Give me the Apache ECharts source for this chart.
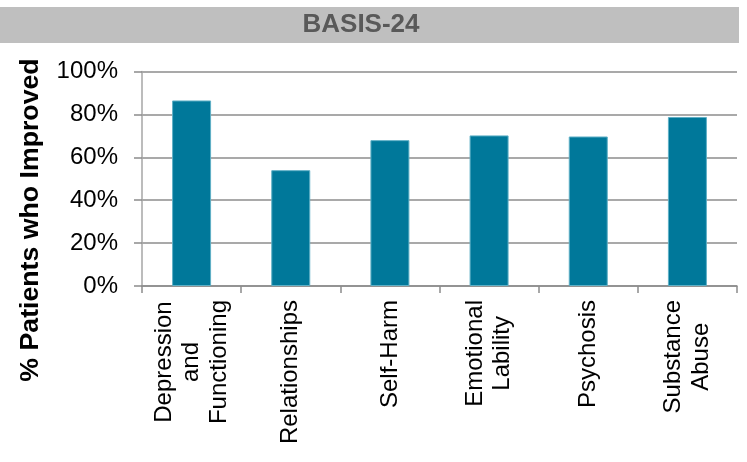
<!DOCTYPE html>
<html>
<head>
<meta charset="utf-8">
<script src="https://cdn.jsdelivr.net/npm/echarts@6/dist/echarts.min.js"></script>
<style>html,body{margin:0;padding:0;background:#fff;}#c{width:747px;height:462px;}</style>
</head>
<body>
<div id="c"></div>
<script>
var categories = ['Depression\nand\nFunctioning', 'Relationships', 'Self-Harm', 'Emotional\nLability', 'Psychosis', 'Substance\nAbuse'];
var improved = [86.5, 54, 68, 70.2, 69.7, 78.8];
var yTicks = [0, 20, 40, 60, 80, 100];
var chartTitle = 'BASIS-24';
var yTitle = '% Patients who Improved';

var chart = echarts.init(document.getElementById('c'), null, {renderer: 'canvas'});
var FONT = '"Liberation Sans", Arial, sans-serif';
chart.setOption({
  animation: false,
  textStyle: {fontFamily: FONT},
  grid: {left: 142, right: 10, top: 71.5, bottom: 176, containLabel: false},
  graphic: [
    {type: 'rect', left: 0, top: 7, shape: {width: 739, height: 36}, style: {fill: '#bfbfbf'}, z: 0},
    {type: 'text', x: 361, y: 25, style: {text: chartTitle, fontFamily: FONT, fontWeight: 'bold', fontSize: 26, fill: '#595959', align: 'center', verticalAlign: 'middle'}, z: 1},
    {type: 'text', x: 31, y: 220, rotation: Math.PI / 2, style: {text: yTitle, fontFamily: FONT, fontWeight: 'bold', fontSize: 26.7, fill: '#000', align: 'center', verticalAlign: 'middle'}, z: 1}
  ],
  xAxis: {
    type: 'category',
    data: categories,
    boundaryGap: true,
    axisLine: {show: true, lineStyle: {color: '#8c8c8c', width: 1.5}},
    axisTick: {show: true, inside: false, length: 7, alignWithLabel: false, lineStyle: {color: '#8c8c8c', width: 1.5}},
    axisLabel: {
      rotate: 90, margin: 14, interval: 0, color: '#000', fontSize: 24, fontFamily: FONT,
      formatter: function (v) { return v.split('\n').map(function (l) { return '{c|' + l + '}'; }).join('\n'); },
      rich: {c: {align: 'center', fontSize: 24, fontFamily: FONT, color: '#000', lineHeight: 27.5}}
    }
  },
  yAxis: {
    type: 'value', min: 0, max: 100, interval: 20,
    axisLine: {show: true, lineStyle: {color: '#a6a6a6', width: 1.5}},
    axisTick: {show: true, inside: false, length: 8, lineStyle: {color: '#8c8c8c', width: 1.5}},
    splitLine: {show: true, lineStyle: {color: '#8c8c8c', width: 1.5}},
    axisLabel: {formatter: '{value}%', color: '#000', fontSize: 24, fontFamily: FONT, margin: 24}
  },
  series: [{
    type: 'bar',
    data: improved,
    barWidth: 39,
    itemStyle: {color: '#00789a', borderColor: '#5fb0c6', borderWidth: 1},
    z: 3
  }]
});
</script>
</body>
</html>
